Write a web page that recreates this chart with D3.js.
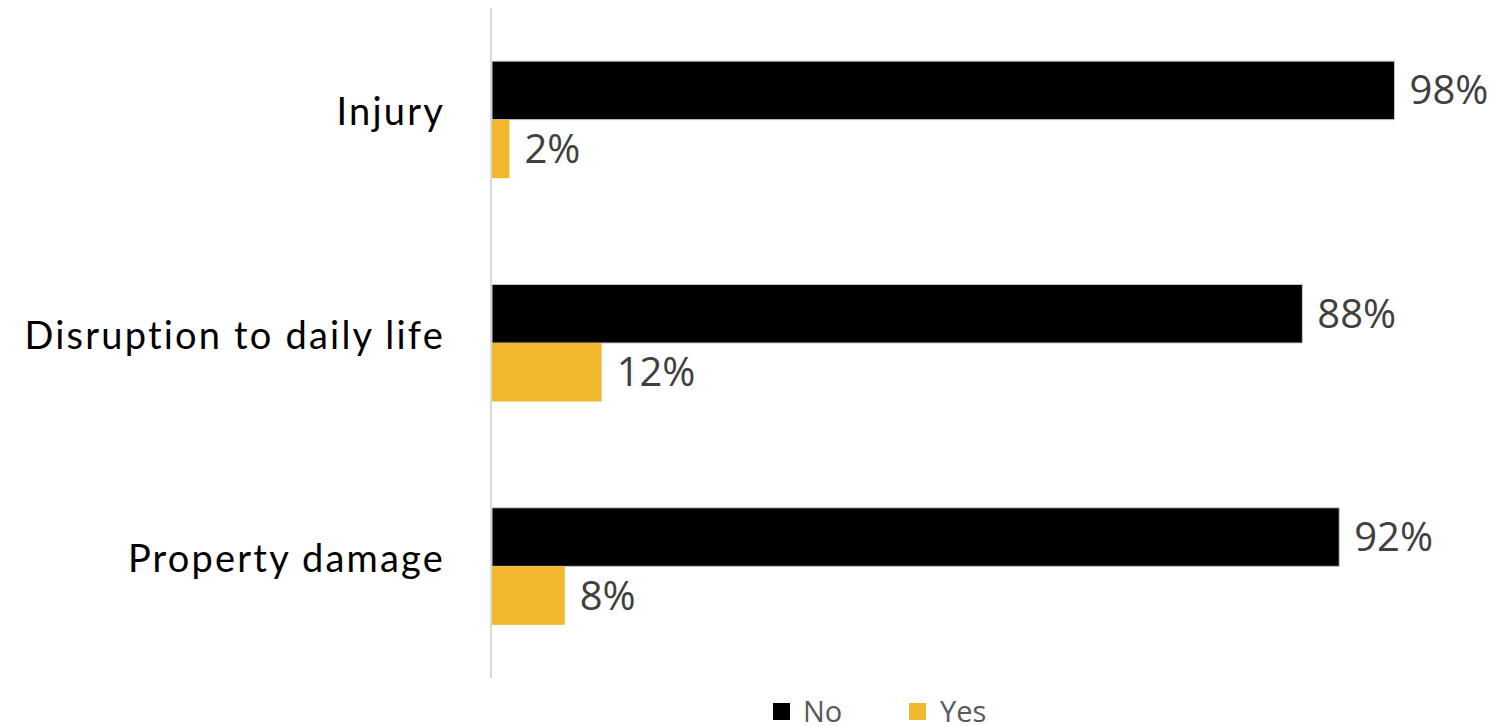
<!DOCTYPE html>
<html>
<head>
<meta charset="utf-8">
<script src="https://cdn.jsdelivr.net/npm/d3@7"></script>
<style>
  html, body { margin: 0; padding: 0; background: #ffffff; }
  svg { display: block; }
</style>
</head>
<body>
<svg id="chart" width="1503" height="726"></svg>
<script>
// Share of respondents reporting each impact
const categories = ["Injury", "Disruption to daily life", "Property damage"];
const seriesNames = ["No", "Yes"];
const noValues = [98, 88, 92];
const yesValues = [2, 12, 8];
const seriesColors = ["#000000", "#F1B82E"];

const rows = categories.map((c, i) => ({ category: c, No: noValues[i], Yes: yesValues[i] }));

const svg = d3.select("#chart");
const plot = { left: 491, right: 1413, top: 8, bottom: 678 };

const x = d3.scaleLinear().domain([0, 100]).range([plot.left, plot.right]);
const y = d3.scaleBand()
  .domain(categories)
  .range([plot.top, plot.bottom])
  .paddingInner(0.476)
  .paddingOuter(0.238);
const ySub = d3.scaleBand().domain(seriesNames).range([0, y.bandwidth()]).padding(0);
const color = d3.scaleOrdinal().domain(seriesNames).range(seriesColors);

// Category axis (vertical rule + labels)
const yAxis = d3.axisLeft(y).tickSize(0).tickPadding(46);
const axisG = svg.append("g")
  .attr("transform", `translate(${plot.left},0)`)
  .call(yAxis);
axisG.select(".domain")
  .attr("stroke", "#d9d9d9")
  .attr("stroke-width", 2)
  .attr("d", `M0,${plot.top}V${plot.bottom}`);
axisG.selectAll(".tick text")
  .attr("fill", "#000000")
  .attr("font-family", "Lato, 'Open Sans', sans-serif")
  .attr("font-size", 38)
  .attr("letter-spacing", 2.2)
  .attr("dy", "0.15em");

// Bars
const groups = svg.append("g")
  .selectAll("g")
  .data(rows)
  .join("g")
  .attr("transform", d => `translate(0,${y(d.category)})`);

groups.selectAll("rect")
  .data(d => seriesNames.map(s => ({ key: s, value: d[s] })))
  .join("rect")
  .attr("x", x(0) + 1)
  .attr("y", d => ySub(d.key))
  .attr("width", d => x(d.value) - x(0) - 1)
  .attr("height", ySub.bandwidth())
  .attr("fill", d => color(d.key))
  .attr("stroke", d => d.key === "No" ? "#c8c8c8" : "none")
  .attr("stroke-width", 1);

// Value labels
groups.selectAll("text")
  .data(d => seriesNames.map(s => ({ key: s, value: d[s] })))
  .join("text")
  .attr("x", d => x(d.value) + 15)
  .attr("y", d => ySub(d.key) + ySub.bandwidth() / 2 + 14)
  .attr("fill", "#404040")
  .attr("font-family", "'Open Sans', sans-serif")
  .attr("font-size", 40)
  .text(d => d3.format(".0f")(d.value) + "%");

// Legend
const legendX = [773, 909];
const legend = svg.append("g")
  .selectAll("g")
  .data(seriesNames)
  .join("g")
  .attr("transform", (d, i) => `translate(${legendX[i]},703)`);
legend.append("rect")
  .attr("width", 17)
  .attr("height", 17)
  .attr("fill", d => color(d));
legend.append("text")
  .attr("x", d => d === "No" ? 30 : 31)
  .attr("y", 19)
  .attr("fill", "#595959")
  .attr("font-family", "'Open Sans', sans-serif")
  .attr("font-size", 29)
  .text(d => d);
</script>
</body>
</html>
